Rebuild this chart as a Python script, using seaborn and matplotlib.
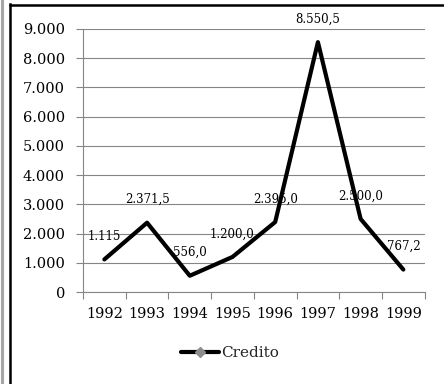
import matplotlib
matplotlib.use("Agg")
import matplotlib.pyplot as plt
from matplotlib.lines import Line2D
import seaborn as sns
import pandas as pd

# Annual credit amounts
years = ["1992", "1993", "1994", "1995", "1996", "1997", "1998", "1999"]
credito = [1115.0, 2371.5, 556.0, 1200.0, 2395.0, 8550.5, 2500.0, 767.2]
value_labels = ["1.115", "2.371,5", "556,0", "1.200,0", "2.395,0", "8.550,5", "2.500,0", "767,2"]
y_ticks = [0, 1000, 2000, 3000, 4000, 5000, 6000, 7000, 8000, 9000]
y_tick_labels = ["0", "1.000", "2.000", "3.000", "4.000", "5.000", "6.000", "7.000", "8.000", "9.000"]
series_name = "Credito"

df = pd.DataFrame({"Año": years, series_name: credito})

sns.set_theme(style="white")
plt.rcParams["font.family"] = ["DejaVu Serif"]

fig = plt.figure(figsize=(4.44, 3.84), dpi=100)
fig.patch.set_facecolor("white")
ax = fig.add_axes([83 / 444, 92 / 384, (424.7 - 83) / 444, (292 - 29) / 384])

sns.lineplot(data=df, x="Año", y=series_name, ax=ax, color="black",
             linewidth=3.0, sort=False, legend=False)

ax.set_xlim(-0.5, len(years) - 0.5)
ax.set_ylim(0, 9000)
ax.set_xlabel("")
ax.set_ylabel("")

# Horizontal gridlines
ax.set_yticks(y_ticks)
ax.set_yticklabels(y_tick_labels, fontsize=10.5, color="black")
ax.yaxis.grid(True, color="#858585", linewidth=0.8)
ax.xaxis.grid(False)
ax.set_axisbelow(True)
ax.tick_params(axis="y", which="major", left=True, length=5, width=0.8,
               color="#858585", pad=8)

# Category labels centred, tick marks between categories
ax.set_xticks(range(len(years)))
ax.set_xticklabels(years, fontsize=10.5, color="black")
ax.set_xticks([i - 0.5 for i in range(len(years) + 1)], minor=True)
ax.tick_params(axis="x", which="major", length=0, pad=11)
ax.tick_params(axis="x", which="minor", bottom=True, length=5, width=0.8,
               color="#858585")

for side in ["top", "right"]:
    ax.spines[side].set_visible(False)
for side in ["left", "bottom"]:
    ax.spines[side].set_color("#858585")
    ax.spines[side].set_linewidth(0.8)

# Value labels above each point
for i, (v, lab) in enumerate(zip(credito, value_labels)):
    ax.annotate(lab, (i, v), xytext=(0, 23), textcoords="offset pixels",
                ha="center", va="center", fontsize=8.5, color="black")

# Legend below the plot
handle = Line2D([], [], color="black", linewidth=3.0, marker="D",
                markersize=5.5, markerfacecolor="#8c8c8c",
                markeredgecolor="#8c8c8c")
fig.legend([handle], [series_name], loc="center",
           bbox_to_anchor=(230 / 444, 31 / 384), frameon=False,
           fontsize=11, handlelength=2.5, handletextpad=0.15,
           borderpad=0, borderaxespad=0)

# Chart frame
fig.add_artist(Line2D([1.5 / 444, 1.5 / 444], [0, 1], transform=fig.transFigure,
                      color="#a6a6a6", linewidth=2.2))
fig.add_artist(Line2D([10 / 444, 10 / 444], [0, 1 - 4 / 384], transform=fig.transFigure,
                      color="black", linewidth=1.8, solid_capstyle="projecting"))
fig.add_artist(Line2D([10 / 444, 1], [1 - 5 / 384, 1 - 5 / 384], transform=fig.transFigure,
                      color="black", linewidth=1.8))

fig.savefig("out.png", dpi=100)
